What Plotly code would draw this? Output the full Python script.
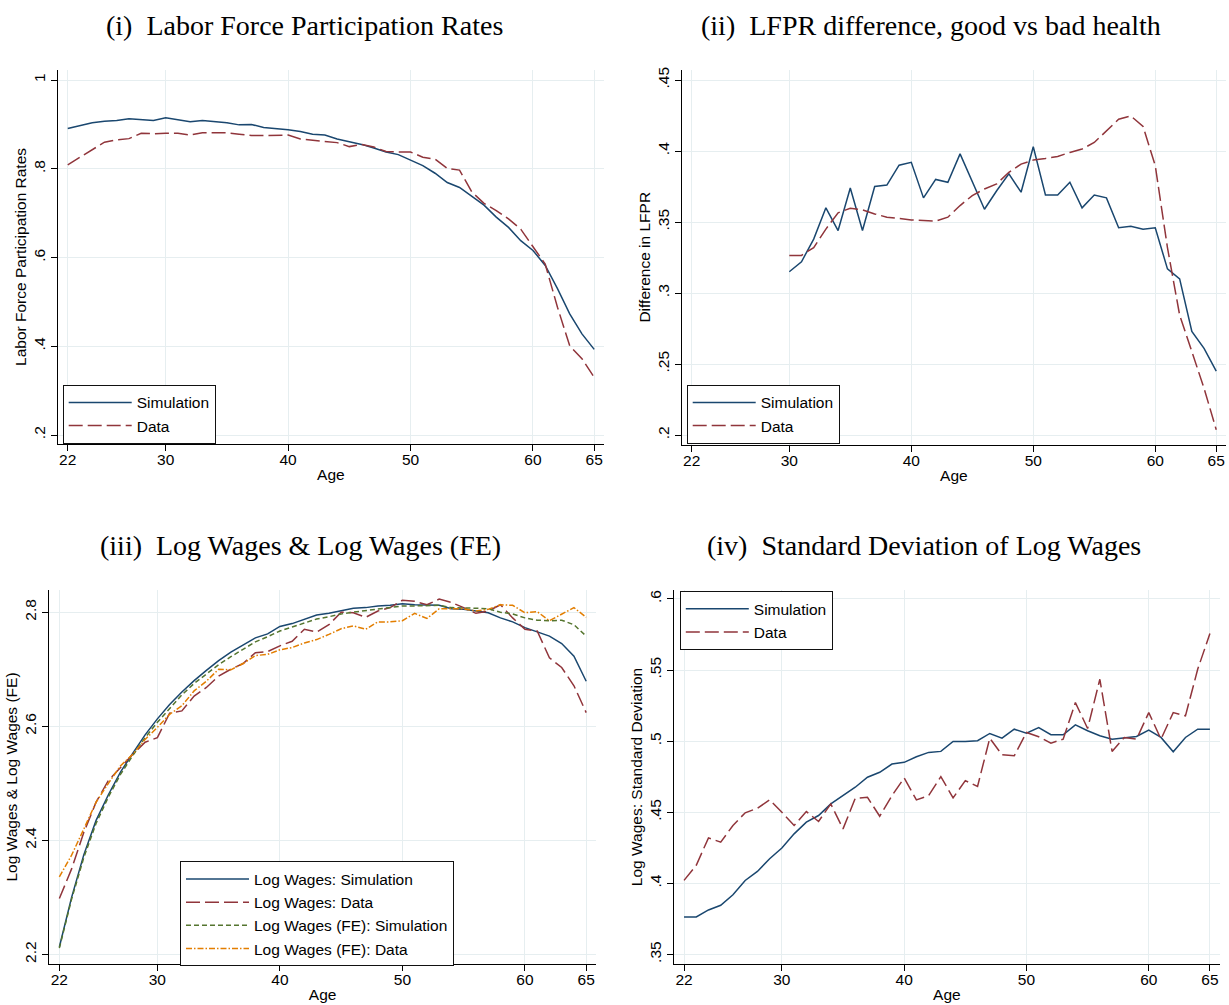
import plotly.graph_objects as go

ages = list(range(22, 66))
ages_ii = list(range(30, 66))

# (i) labor force participation
lfpr_sim = [.891, .898, .904, .907, .909, .913, .911, .909, .915, .910, .906, .909,
            .906, .904, .899, .900, .893, .891, .888, .884, .878, .876, .867, .861,
            .855, .847, .838, .832, .820, .807, .790, .769, .758, .739, .718, .691,
            .668, .638, .616, .582, .530, .473, .428, .393]
lfpr_data = [.809, .826, .844, .860, .865, .868, .880, .879, .880, .880, .876, .881,
             .881, .881, .878, .875, .875, .876, .876, .867, .864, .861, .859, .850,
             .855, .849, .839, .838, .838, .826, .822, .801, .797, .748, .722, .706,
             .687, .664, .623, .585, .488, .401, .372, .330]

# (ii) LFPR difference good vs bad health, ages 30-65
diff_sim = [.315, .322, .338, .360, .344, .374, .344, .375, .376, .390, .392, .367,
            .380, .378, .398, .378, .359, .372, .384, .371, .403, .369, .369, .378,
            .360, .369, .367, .346, .347, .345, .346, .317, .310, .273, .261, .245]
diff_data = [.3265, .3265, .332, .345, .3565, .3597, .3586, .3557, .3534, .3522, .3515, .351,
             .3506, .3534, .3616, .3686, .3733, .3768, .385, .3908, .3936, .3948, .3962, .399,
             .4014, .406, .4142, .4224, .4247, .4173, .3897, .332, .2844, .2587, .233, .2037]

# (iii) log wages
lw_sim = [2.213, 2.300, 2.375, 2.435, 2.480, 2.520, 2.553, 2.585, 2.613, 2.638, 2.660, 2.680,
          2.698, 2.715, 2.730, 2.742, 2.755, 2.762, 2.775, 2.780, 2.788, 2.795, 2.798, 2.803,
          2.807, 2.808, 2.811, 2.812, 2.815, 2.813, 2.812, 2.812, 2.806, 2.805, 2.802, 2.799,
          2.790, 2.783, 2.773, 2.765, 2.758, 2.745, 2.723, 2.679]
lw_data = [2.298, 2.350, 2.414, 2.467, 2.505, 2.528, 2.551, 2.572, 2.580, 2.623, 2.627, 2.653,
           2.668, 2.688, 2.700, 2.710, 2.729, 2.731, 2.741, 2.749, 2.770, 2.765, 2.778, 2.800,
           2.799, 2.791, 2.802, 2.808, 2.821, 2.819, 2.813, 2.823, 2.817, 2.808, 2.798, 2.802,
           2.813, 2.790, 2.770, 2.767, 2.720, 2.703, 2.671, 2.624]
lwfe_sim = [2.211, 2.297, 2.370, 2.430, 2.476, 2.516, 2.549, 2.580, 2.607, 2.632, 2.655, 2.675,
            2.692, 2.708, 2.722, 2.735, 2.748, 2.757, 2.767, 2.774, 2.781, 2.788, 2.792, 2.797,
            2.800, 2.803, 2.806, 2.809, 2.811, 2.811, 2.811, 2.812, 2.808, 2.808, 2.807, 2.806,
            2.800, 2.797, 2.790, 2.786, 2.785, 2.786, 2.778, 2.758]
lwfe_data = [2.336, 2.374, 2.420, 2.467, 2.500, 2.531, 2.551, 2.577, 2.598, 2.621, 2.636, 2.662,
             2.679, 2.700, 2.699, 2.710, 2.724, 2.726, 2.734, 2.738, 2.746, 2.752, 2.761, 2.771,
             2.776, 2.770, 2.783, 2.783, 2.785, 2.798, 2.789, 2.806, 2.806, 2.806, 2.802, 2.805,
             2.813, 2.812, 2.799, 2.801, 2.785, 2.796, 2.808, 2.791]

# (iv) standard deviation of log wages
sd_sim = [.3764, .3764, .3813, .3846, .392, .402, .4084, .4173, .4248, .4348, .443, .4477,
          .4559, .4617, .4676, .4746, .4781, .4839, .4851, .489, .4921, .4928, .4998, .4998,
          .5003, .5054, .5021, .5084, .5056, .5096, .5045, .5045, .5115, .5073, .5038, .5014,
          .5021, .5033, .5077, .5026, .4925, .5026, .5084, .5084]
sd_data = [.4021, .4127, .432, .429, .4407, .4496, .4528, .4587, .450, .4407, .4505, .4435,
           .4559, .4383, .4598, .4605, .4472, .4617, .4741, .4587, .4617, .475, .4601, .4722,
           .4682, .5021, .4904, .4897, .5061, .5031, .4986, .5014, .5271, .5089, .5435, .4928,
           .5026, .5014, .5201, .5014, .5201, .5178, .5505, .5757]

x_ticks = [22, 30, 40, 50, 60, 65]
y_ticks_i = [.2, .4, .6, .8, 1]
y_text_i = [".2", ".4", ".6", ".8", "1"]
y_ticks_ii = [.2, .25, .3, .35, .4, .45]
y_text_ii = [".2", ".25", ".3", ".35", ".4", ".45"]
y_ticks_iii = [2.2, 2.4, 2.6, 2.8]
y_text_iii = ["2.2", "2.4", "2.6", "2.8"]
y_ticks_iv = [.35, .4, .45, .5, .55, .6]
y_text_iv = [".35", ".4", ".45", ".5", ".55", ".6"]

NAVY = "#1a476f"
MAROON = "#90353b"
GREEN = "#55752f"
ORANGE = "#e37e00"
GRID = "#e6eef0"
SANS = "Liberation Sans"
SERIF = "Liberation Serif"

W, H = 1229, 1005

fig = go.Figure()


def add_line(x, y, name, color, dash, ax, legend):
    fig.add_trace(go.Scatter(
        x=x, y=y, name=name, mode="lines",
        line=dict(color=color, width=1.5, dash=dash),
        xaxis="x" + ax, yaxis="y" + ax, legend=legend,
    ))


add_line(ages, lfpr_sim, "Simulation", NAVY, "solid", "", "legend")
add_line(ages, lfpr_data, "Data", MAROON, "14px,5px", "", "legend")
add_line(ages_ii, diff_sim, "Simulation", NAVY, "solid", "2", "legend2")
add_line(ages_ii, diff_data, "Data", MAROON, "14px,5px", "2", "legend2")
add_line(ages, lw_sim, "Log Wages: Simulation", NAVY, "solid", "3", "legend3")
add_line(ages, lw_data, "Log Wages: Data", MAROON, "14px,5px", "3", "legend3")
add_line(ages, lwfe_sim, "Log Wages (FE): Simulation", GREEN, "5px,3px", "3", "legend3")
add_line(ages, lwfe_data, "Log Wages (FE): Data", ORANGE, "6px,2px,1.5px,2px", "3", "legend3")
add_line(ages, sd_sim, "Simulation", NAVY, "solid", "4", "legend4")
add_line(ages, sd_data, "Data", MAROON, "14px,5px", "4", "legend4")


def px_x(a, b):
    return [a / W, b / W]


def px_y(top, bottom):
    return [1 - bottom / H, 1 - top / H]


axis_font = dict(family=SANS, size=15.5, color="#000")


def x_axis(dom, anchor):
    return dict(domain=dom, anchor=anchor, range=[21.18, 65.8], tickvals=x_ticks,
                ticks="outside", ticklen=6, tickcolor="#000", showline=True,
                linecolor="#000", linewidth=1, showgrid=True, gridcolor=GRID,
                gridwidth=1.3, zeroline=False, tickfont=axis_font,
                ticklabelstandoff=-5,
                title=dict(text="Age", font=axis_font, standoff=2))


def y_axis(dom, anchor, rng, vals, text, title):
    return dict(domain=dom, anchor=anchor, range=rng, tickvals=vals, ticktext=text,
                tickangle=-90, ticks="outside", ticklen=6, tickcolor="#000",
                showline=True, linecolor="#000", linewidth=1, showgrid=True,
                gridcolor=GRID, gridwidth=1.3, zeroline=False, tickfont=axis_font,
                title=dict(text=title, font=axis_font, standoff=0))


def legend_box(left, top):
    return dict(x=left / W, y=1 - top / H, xanchor="left", yanchor="top",
                bgcolor="white", bordercolor="#111", borderwidth=1,
                font=dict(family=SANS, size=15.5, color="#000"), itemwidth=63,
                tracegroupgap=0)


fig.update_layout(
    width=W, height=H,
    margin=dict(l=0, r=0, t=0, b=0),
    paper_bgcolor="white", plot_bgcolor="white",
    showlegend=True,
    xaxis=x_axis(px_x(57.7, 604), "y"),
    yaxis=y_axis(px_y(66.7, 442.7), "x", [0.1789, 1.0238], y_ticks_i, y_text_i,
                 "Labor Force Participation Rates"),
    xaxis2=x_axis(px_x(681.7, 1226), "y2"),
    yaxis2=y_axis(px_y(66.7, 443.3), "x2", [0.193, 0.4574], y_ticks_ii, y_text_ii,
                  "Difference in LFPR"),
    xaxis3=x_axis(px_x(49.3, 596), "y3"),
    yaxis3=y_axis(px_y(588.3, 964.3), "x3", [2.1825, 2.8397], y_ticks_iii, y_text_iii,
                  "Log Wages & Log Wages (FE)"),
    xaxis4=x_axis(px_x(674, 1219.7), "y4"),
    yaxis4=y_axis(px_y(588.3, 964.3), "x4", [0.343, 0.6066], y_ticks_iv, y_text_iv,
                  "Log Wages: Standard Deviation"),
    legend=legend_box(62.7, 383),
    legend2=legend_box(686.7, 383),
    legend3=legend_box(180, 861),
    legend4=legend_box(679.8, 590),
)

titles = [
    ("(i)\u00a0 Labor Force Participation Rates", 304, 23),
    ("(ii)\u00a0 LFPR difference, good vs bad health", 931, 23),
    ("(iii)\u00a0 Log Wages &amp; Log Wages (FE)", 300, 544),
    ("(iv)\u00a0 Standard Deviation of Log Wages", 924, 544),
]
for text, cx, cy in titles:
    fig.add_annotation(text=text, x=cx / W, y=1 - cy / H, xref="paper", yref="paper",
                       xanchor="center", yanchor="middle", showarrow=False,
                       font=dict(family=SERIF, size=28, color="#000"))

fig.write_html("out.html", config={"displayModeBar": False},
               post_script="document.body.style.margin='0';")
